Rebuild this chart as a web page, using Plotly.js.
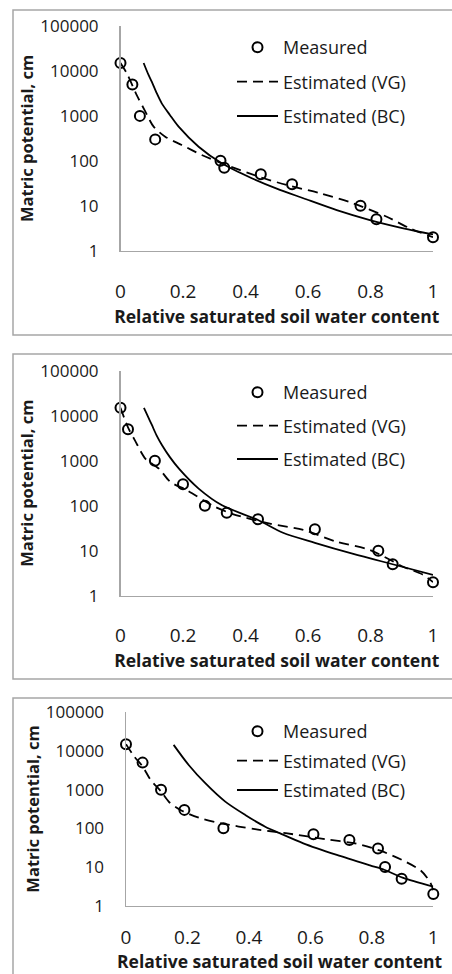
<!DOCTYPE html>
<html>
<head>
<meta charset="utf-8">
<script src="https://cdn.plot.ly/plotly-3.0.1.min.js"></script>
<style>
html,body{margin:0;padding:0;background:#fff;}
#chart{width:452px;height:974px;}
</style>
</head>
<body>
<div id="chart"></div>
<script>
// ---------- data ----------
const xTickVals = [0, 0.2, 0.4, 0.6, 0.8, 1];
const xTickText = ["0", "0.2", "0.4", "0.6", "0.8", "1"];
const yTickVals = [1, 10, 100, 1000, 10000, 100000];
const yTickText = ["1", "10", "100", "1000", "10000", "100000"];
const seriesNames = ["Measured", "Estimated (VG)", "Estimated (BC)"];
const xTitle = "Relative saturated soil water content";
const yTitle = "Matric potential, cm";

// Panel 1
const meas1X = [0, 0.038, 0.062, 0.111, 0.32, 0.332, 0.449, 0.549, 0.768, 0.819, 1.0];
const meas1Y = [15000, 5000, 1000, 300, 100, 70, 50, 30, 10, 5, 2];
const vg1X = [0, 0.02, 0.052, 0.08, 0.106, 0.143, 0.196, 0.26, 0.324, 0.44, 0.531, 0.638, 0.745, 0.852, 0.926, 1.0];
const vg1Y = [15000, 8900, 2900, 1230, 575, 345, 225, 135, 88, 45, 29, 19, 11.3, 5.7, 3.15, 2.0];
const bc1X = [0.074, 0.087, 0.1, 0.115, 0.132, 0.158, 0.186, 0.25, 0.324, 0.42, 0.5, 0.585, 0.692, 0.798, 0.905, 1.0];
const bc1Y = [15000, 9000, 5750, 3300, 1900, 1050, 575, 206, 88, 41, 24, 14.7, 8.0, 4.8, 3.15, 2.3];

// Panel 2
const meas2X = [0, 0.024, 0.11, 0.2, 0.27, 0.34, 0.44, 0.622, 0.825, 0.871, 1.0];
const meas2Y = [15000, 5000, 1000, 300, 100, 70, 50, 30, 10, 5, 2];
const vg2X = [0, 0.024, 0.047, 0.08, 0.123, 0.16, 0.213, 0.293, 0.357, 0.478, 0.585, 0.692, 0.798, 0.905, 0.969, 1.0];
const vg2Y = [15000, 5500, 2760, 1100, 665, 335, 220, 102, 66, 40, 29, 15.8, 10.4, 4.4, 2.9, 2.0];
const bc2X = [0.075, 0.088, 0.1, 0.115, 0.133, 0.158, 0.187, 0.25, 0.325, 0.44, 0.52, 0.622, 0.745, 0.871, 1.0];
const bc2Y = [15000, 9500, 6300, 3700, 2200, 1200, 665, 240, 102, 48, 25, 15, 8.5, 5, 2.9];

// Panel 3
const meas3X = [0, 0.054, 0.114, 0.19, 0.317, 0.61, 0.727, 0.82, 0.843, 0.897, 1.0];
const meas3Y = [15000, 5000, 1000, 300, 100, 70, 50, 30, 10, 5, 2];
const vg3X = [0, 0.025, 0.054, 0.08, 0.114, 0.14, 0.18, 0.24, 0.31, 0.42, 0.52, 0.65, 0.75, 0.83, 0.9, 0.96, 0.99, 1.0];
const vg3Y = [15000, 7500, 4000, 1800, 900, 480, 290, 185, 135, 95, 75, 52, 40, 26, 15, 8, 4, 2.5];
const bc3X = [0.155, 0.204, 0.258, 0.323, 0.388, 0.453, 0.5, 0.577, 0.686, 0.794, 0.84, 0.9, 1.0];
const bc3Y = [14400, 4350, 1470, 490, 222, 110, 75, 41, 20.5, 11, 8.5, 5.3, 3.1];

// ---------- layout helpers ----------
const W = 452, H = 974;
const FONT = '"Open Sans", "Noto Sans", sans-serif';
const INK = '#1a1a1a';
const AXIS = '#a6a6a6';
const px = p => p / W;
const py = p => 1 - p / H;
const titleFont = {size: 17.5, family: FONT, color: INK, weight: 700};

const panels = [
  {mx: meas1X, my: meas1Y, vx: vg1X, vy: vg1Y, bx: bc1X, by: bc1Y,
   xd: [120.5, 433], yd: [26, 250.7], frame: [10, 335], legTop: 29, gap: 8, xstand: 23, xTitleY: null},
  {mx: meas2X, my: meas2Y, vx: vg2X, vy: vg2Y, bx: bc2X, by: bc2Y,
   xd: [120.5, 433], yd: [370.7, 595.7], frame: [354, 679], legTop: 374, gap: 7, xstand: 22, xTitleY: null},
  {mx: meas3X, my: meas3Y, vx: vg3X, vy: vg3Y, bx: bc3X, by: bc3Y,
   xd: [126, 433.3], yd: [712.3, 905.7], frame: [698, 1100], legTop: 713, gap: 3, xstand: 14, xTitleY: 961}
];

const traces = [];
const layout = {
  width: W, height: H,
  margin: {l: 0, r: 0, t: 0, b: 0},
  paper_bgcolor: '#fff', plot_bgcolor: 'rgba(0,0,0,0)',
  font: {family: FONT, color: INK},
  shapes: [],
  annotations: [],
  showlegend: true
};

panels.forEach((p, i) => {
  const n = i + 1;
  const sfx = n === 1 ? '' : String(n);
  const xa = 'x' + sfx, ya = 'y' + sfx;
  const leg = 'legend' + sfx;
  const grp = 'p' + n;

  traces.push({
    type: 'scatter', mode: 'markers', x: p.mx, y: p.my, xaxis: xa, yaxis: ya,
    name: seriesNames[0], legend: leg, legendgroup: grp + 'm', cliponaxis: false,
    marker: {symbol: 'circle-open', size: 10, color: '#000', line: {width: 2, color: '#000'}}
  });
  traces.push({
    type: 'scatter', mode: 'lines', x: p.vx, y: p.vy, xaxis: xa, yaxis: ya,
    name: seriesNames[1], legend: leg, legendgroup: grp + 'v', cliponaxis: false,
    line: {color: '#000', width: 1.8, dash: '10px,6px', shape: 'spline', smoothing: 0.8}
  });
  traces.push({
    type: 'scatter', mode: 'lines', x: p.bx, y: p.by, xaxis: xa, yaxis: ya,
    name: seriesNames[2], legend: leg, legendgroup: grp + 'b', cliponaxis: false,
    line: {color: '#000', width: 1.8, shape: 'spline', smoothing: 0.8}
  });

  const xaxis = {
    domain: [px(p.xd[0]), px(p.xd[1])], anchor: ya, range: [0, 1],
    tickvals: xTickVals, ticktext: xTickText, ticks: '', ticklabelstandoff: p.xstand,
    tickfont: {size: 19, family: FONT, color: INK},
    showline: true, linecolor: AXIS, linewidth: 1.5, showgrid: false, zeroline: false,
    automargin: false, fixedrange: true
  };
  if (p.xTitleY === null) {
    xaxis.title = {text: xTitle, standoff: 4, font: titleFont};
  } else {
    layout.annotations.push({
      text: xTitle, xref: 'paper', yref: 'paper',
      x: px((p.xd[0] + p.xd[1]) / 2), y: py(p.xTitleY),
      xanchor: 'center', yanchor: 'middle', showarrow: false, font: titleFont, borderpad: 0
    });
  }
  layout['xaxis' + sfx] = xaxis;
  layout['yaxis' + sfx] = {
    domain: [py(p.yd[1]), py(p.yd[0])], anchor: xa, type: 'log', range: [0, 5],
    tickvals: yTickVals, ticktext: yTickText, ticks: '', ticklabelstandoff: 17,
    tickfont: {size: 17, family: FONT, color: INK},
    showline: true, linecolor: AXIS, linewidth: 1.5, showgrid: false, zeroline: false,
    automargin: false, fixedrange: true,
    title: {text: yTitle, standoff: 2, font: {size: 16.5, family: FONT, color: INK, weight: 700}}
  };
  layout[leg] = {
    x: px(232), y: py(p.legTop), xanchor: 'left', yanchor: 'top',
    bgcolor: 'rgba(0,0,0,0)', borderwidth: 0, itemwidth: 41,
    tracegroupgap: p.gap, traceorder: 'grouped',
    font: {size: 18, family: FONT, color: INK}
  };
  layout.shapes.push({
    type: 'rect', xref: 'paper', yref: 'paper',
    x0: px(13), x1: px(470), y0: py(p.frame[1]), y1: py(p.frame[0]),
    line: {color: AXIS, width: 1.5}, fillcolor: 'rgba(0,0,0,0)', layer: 'below'
  });
});

Plotly.newPlot('chart', traces, layout, {displayModeBar: false, staticPlot: true});
</script>
</body>
</html>
